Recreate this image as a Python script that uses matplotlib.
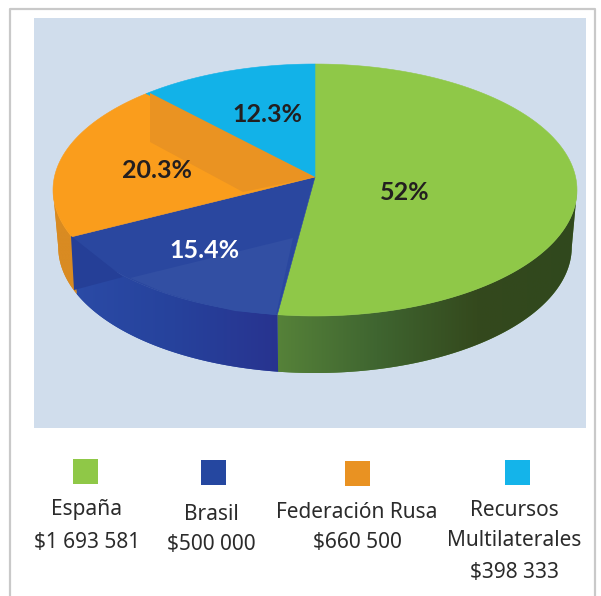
import numpy as np
import matplotlib
matplotlib.use('Agg')
import matplotlib.pyplot as plt
from matplotlib.colors import LinearSegmentedColormap
from matplotlib.patches import Polygon, Rectangle

# values and labels
paises = ['España', 'Brasil', 'Federación Rusa', 'Recursos\nMultilaterales']
montos = [1693581, 500000, 660500, 398333]
montos_txt = ['$1 693 581', '$500 000', '$660 500', '$398 333']
porcentajes = ['52%', '15.4%', '20.3%', '12.3%']

colores = ['#8fc848', '#2a479f', '#fa9d1c', '#12b2e8']
colores_ley = ['#8fc847', '#2547a0', '#e99222', '#14b4ea']
colores_txt = ['#231f20', 'white', '#231f20', '#231f20']
paredes = [['#568239', '#3f6530', '#34491d', '#30481d'],
           ['#2b4ba6', '#26429c', '#28338f'],
           ['#d98b22', '#d98b22'],
           ['#12b2e8', '#12b2e8']]

# pie geometry in pixels, perspective moves the apex above the ellipse centre
cx, cy, rx, ry = 315, 190, 262, 126
apex = 13
depth = 57
b = apex / ry
r = rx * np.sqrt(1 - b ** 2)


def project(ang):
    # ang in degrees clockwise from the top of the pie
    u = np.sin(np.radians(ang))
    v = np.cos(np.radians(ang))
    w = 1 + b * v
    return cx + r * u / w, cy - (ry * v + apex) / w


fig = plt.figure(figsize=(6.01, 5.96), dpi=100)
ax = fig.add_axes([0, 0, 1, 1])

# frame and panel
ax.plot([10, 10, 595, 595], [596, 9, 9, 596], color='#c9c9c9', lw=1.6)
ax.add_patch(Rectangle((34, 18), 552, 410, color='#d0ddec', lw=0))

cortes = np.concatenate([[0], np.cumsum(montos) / np.sum(montos) * 360])

# side wall, only the part between the two extremes of the rim shows
for i in range(4):
    a0 = max(cortes[i], 96)
    a1 = min(cortes[i + 1], 264)
    if a1 <= a0:
        continue
    ang = np.linspace(a0, a1, 80)
    x, y = project(ang)
    xb = cx + (x - cx) * 0.98
    yb = y + depth
    pts = np.column_stack([np.r_[x, xb[::-1]], np.r_[y, yb[::-1]]])
    poly = Polygon(pts, closed=True, fc=paredes[i][0], lw=0, zorder=2)
    ax.add_patch(poly)
    cmap = LinearSegmentedColormap.from_list('p%d' % i, paredes[i])
    grad = np.linspace(0, 1, 256).reshape(1, -1)
    im = ax.imshow(grad, cmap=cmap, aspect='auto', zorder=2,
                   extent=[pts[:, 0].min(), pts[:, 0].max(), pts[:, 1].max(), pts[:, 1].min()])
    im.set_clip_path(poly)

# top of the pie
for i in range(4):
    ang = np.linspace(cortes[i], cortes[i + 1], 120)
    x, y = project(ang)
    ax.fill(np.r_[cx, x], np.r_[cy - apex, y], color=colores[i], lw=0.4, zorder=3)

# reflections on the top face
ax.add_patch(Polygon([(150, 93), (150, 142), (243, 192), (315, 177)], fc='#ea9322', lw=0, zorder=4))
ax.add_patch(Polygon([(130, 278), (293, 238), (276, 315), (235, 311), (200, 303), (165, 293)],
                     fc='#324fa3', lw=0, zorder=4))
ax.add_patch(Polygon([(71, 236), (74, 290), (123, 277)], fc='#253f97', lw=0, zorder=4))

# percentages
pos_pct = [(405, 193), (204, 251), (157, 170), (267, 114)]
for (px, py), t, c in zip(pos_pct, porcentajes, colores_txt):
    ax.text(px, py, t, color=c, fontsize=18, fontweight='bold', family='Lato',
            ha='center', va='center', zorder=5)

# legend
pos_ley = [(73, 459), (201, 460), (345, 461), (505, 460)]
for (px, py), c in zip(pos_ley, colores_ley):
    ax.add_patch(Rectangle((px, py), 25, 25, color=c, lw=0))

fs = 15
pos_nom = [(87, 510), (211, 514), (357, 513), (514, 510)]
pos_mon = [(87, 542), (211, 545), (357, 543), (514, 572)]
for i in range(4):
    partes = paises[i].split('\n')
    for j, p in enumerate(partes):
        ax.text(pos_nom[i][0], pos_nom[i][1] + 31 * j, p, fontsize=fs, family='Noto Sans',
                color='#2b2b2b', ha='center', va='center')
    ax.text(pos_mon[i][0], pos_mon[i][1], montos_txt[i], fontsize=fs, family='Noto Sans',
            color='#2b2b2b', ha='center', va='center')

ax.set_xlim(0, 601)
ax.set_ylim(596, 0)
ax.axis('off')
fig.savefig('out.png', dpi=100, facecolor='white')
